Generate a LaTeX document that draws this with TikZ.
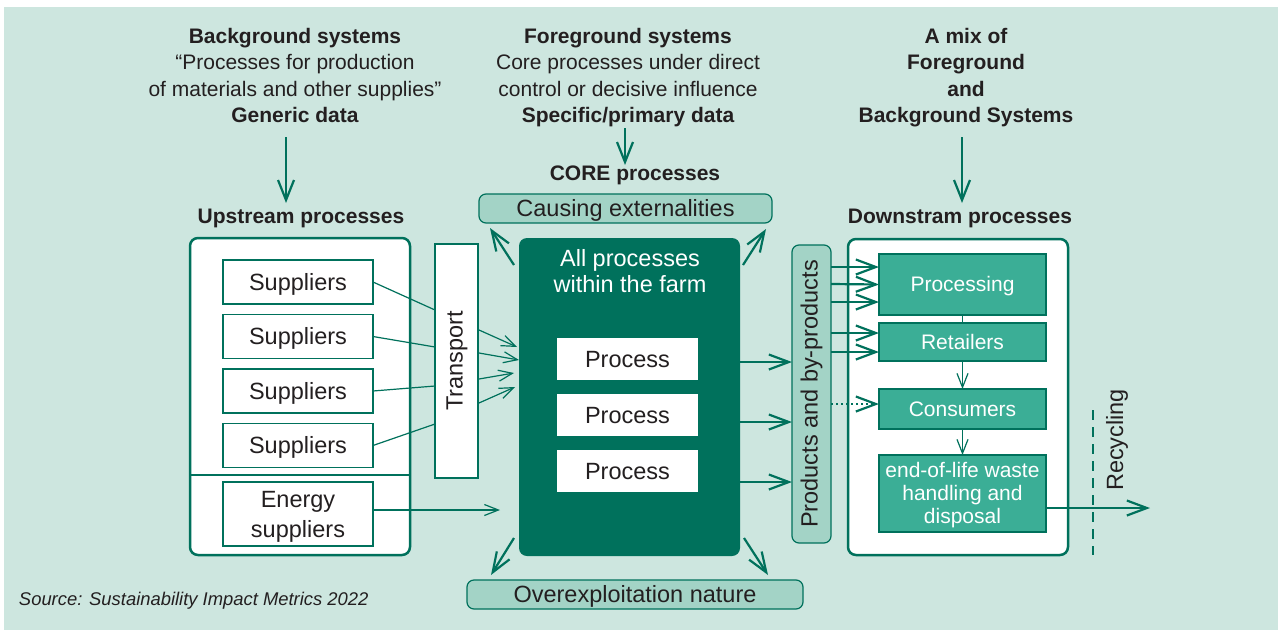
\documentclass[tikz,border=0pt]{standalone}
\usepackage{fontspec}
\setmainfont{Liberation Sans}
\usetikzlibrary{arrows.meta}
\definecolor{bg}{HTML}{CDE6DF}
\definecolor{dg}{HTML}{00715C}
\definecolor{mg}{HTML}{3BAE96}
\definecolor{lg}{HTML}{A3D3C6}
\definecolor{txt}{HTML}{231F20}
\newcommand\fLbl{\fontsize{23.5}{28}\selectfont}
\newcommand\fHd{\fontsize{21}{26.5}\selectfont}
\newcommand\fDs{\fontsize{21}{23.5}\selectfont}
\newcommand\fSrc{\fontsize{18.4}{22}\selectfont}
\begin{document}
\begin{tikzpicture}[x=1pt,y=-1pt,
  every node/.style={text=txt, inner sep=0pt, outer sep=0pt, align=center, font=\fLbl},
  hb/.style={font=\fHd\bfseries, anchor=base},
  hr/.style={font=\fHd, anchor=base},
  tv/.style={text height=16.5pt, text depth=0.5pt},
  tvs/.style={text height=15pt, text depth=1pt},
  obox/.style={draw=dg, line width=2.5pt, fill=white, rounded corners=8pt},
  wbox/.style={draw=dg, line width=1.2pt, fill=white},
  lbox/.style={draw=dg, line width=1.2pt, fill=lg, rounded corners=7pt},
  dbox/.style={draw=dg, line width=1.2pt, fill=mg, text=white, font=\fDs},
  thinln/.style={draw=dg, line width=1.2pt},
  thinarr/.style={draw=dg, line width=1.2pt, -{Straight Barb[length=14pt,width=11pt,line width=1.2pt]}},
  arr/.style={draw=dg, line width=2.2pt, -{Straight Barb[length=20pt,width=15pt,line width=2.2pt]}},
  varr/.style={draw=dg, line width=2.2pt, -{Straight Barb[length=20pt,width=16pt,line width=2.2pt]}},
]
\path[fill=white] (0,0) rectangle (1278,630);
\path[fill=bg] (4,7) rectangle (1278,630);
\useasboundingbox (0,0) rectangle (1278,630);

% headings
\node[hb] (bg1) at (295,43) {Background systems};
\node[hr] (bg2) at (295,69.5) {“Processes for production};
\node[hr] (bg3) at (295,96) {of materials and other supplies”};
\node[hb] (bg4) at (295,122.5) {Generic data};
\node[hb] (fg1) at (628,43) {Foreground systems};
\node[hr] (fg2) at (628,69.5) {Core processes under direct};
\node[hr] (fg3) at (628,96) {control or decisive influence};
\node[hb] (fg4) at (628,122.5) {Specific/primary data};
\node[hb] (mx1) at (966,43) {A mix of};
\node[hb] (mx2) at (966,69.5) {Foreground};
\node[hb] (mx3) at (966,96) {and};
\node[hb] (mx4) at (966,122.5) {Background Systems};
\node[hb] (uph) at (301,223) {Upstream processes};
\node[hb] (coreh) at (635,180) {CORE processes};
\node[hb] (dnh) at (960,223) {Downstram processes};

\coordinate (a1s) at (286,137); \coordinate (a1e) at (286,203);
\coordinate (a2s) at (625,128); \coordinate (a2e) at (625,165);
\coordinate (a3s) at (962,137); \coordinate (a3e) at (962,203);
\draw[varr] (a1s) -- (a1e);
\draw[varr] (a2s) -- (a2e);
\draw[varr] (a3s) -- (a3e);

% upstream
\node[obox, minimum width=220pt, minimum height=317pt] (up) at (300,396.5) {};
\draw[dg, line width=2.5pt] (190,475) -- (410,475);
\node[wbox, tv, minimum width=150pt, minimum height=44pt] (s1) at (298,282) {Suppliers};
\node[wbox, tv, minimum width=150pt, minimum height=44pt] (s2) at (298,336.5) {Suppliers};
\node[wbox, tv, minimum width=150pt, minimum height=44pt] (s3) at (298,391) {Suppliers};
\node[wbox, tv, minimum width=150pt, minimum height=44pt] (s4) at (298,445.5) {Suppliers};
\node[wbox, minimum width=150pt, minimum height=64pt] (en) at (298,514) {};
\node[anchor=base] (en1) at (298,507) {Energy};
\node[anchor=base] (en2) at (298,537) {suppliers};
\node[wbox, minimum width=43pt, minimum height=234pt] (tr) at (456.5,361) {};
\node[rotate=90] (trt) at (457,361) {Transport};

\coordinate (t1) at (435,310); \coordinate (t2) at (435,347);
\coordinate (t3) at (435,386); \coordinate (t4) at (435,424);
\draw[thinln] (s1.east) -- (t1);
\draw[thinln] (s2.east) -- (t2);
\draw[thinln] (s3.east) -- (t3);
\draw[thinln] (s4.east) -- (t4);

% farm
\node[fill=dg, rounded corners=8pt, minimum width=221pt, minimum height=318pt] (farm) at (629.5,397) {};
\node[text=white, anchor=base] (fa1) at (630,266) {All processes};
\node[text=white, anchor=base] (fa2) at (630,292) {within the farm};
\node[fill=white, tv, minimum width=141pt, minimum height=42pt] (p1) at (627.5,359) {Process};
\node[fill=white, tv, minimum width=141pt, minimum height=42pt] (p2) at (627.5,415) {Process};
\node[fill=white, tv, minimum width=141pt, minimum height=42pt] (p3) at (627.5,471) {Process};

\coordinate (u1) at (479,330); \coordinate (v1) at (517,347);
\coordinate (u2) at (479,353); \coordinate (v2) at (519,360);
\coordinate (u3) at (479,379); \coordinate (v3) at (514,373);
\coordinate (u4) at (479,403); \coordinate (v4) at (515,387);
\draw[thinarr] (u1) -- (v1);
\draw[thinarr] (u2) -- (v2);
\draw[thinarr] (u3) -- (v3);
\draw[thinarr] (u4) -- (v4);
\coordinate (ee) at (500,510);
\draw[thinarr] ([yshift=4pt]en.east) -- (ee);

% externalities
\node[lbox, tv, minimum width=293pt, minimum height=29pt] (ce) at (625.5,208.5) {Causing externalities};
\node[lbox, tv, minimum width=336pt, minimum height=29pt] (on) at (635,594.5) {Overexploitation nature};
\coordinate (c1s) at (514,265); \coordinate (c1e) at (490,228);
\coordinate (c2s) at (743,265); \coordinate (c2e) at (766,229);
\coordinate (o1s) at (514,538); \coordinate (o1e) at (491,575);
\coordinate (o2s) at (744,538); \coordinate (o2e) at (768,575);
\draw[arr] (c1s) -- (c1e);
\draw[arr] (c2s) -- (c2e);
\draw[arr] (o1s) -- (o1e);
\draw[arr] (o2s) -- (o2e);

% products
\node[lbox, minimum width=39pt, minimum height=298pt] (pr) at (811.5,394) {};
\node[rotate=90] (prt) at (811.5,394) {Products and by-products};
\draw[arr] ([yshift=35pt]farm.east) -- ([yshift=32pt]pr.west);
\draw[arr] ([yshift=-25pt]farm.east) -- ([yshift=-28pt]pr.west);
\draw[arr] ([yshift=-85pt]farm.east) -- ([yshift=-88pt]pr.west);

% downstream
\node[obox, minimum width=220pt, minimum height=316pt] (dn) at (958,397) {};
\node[dbox, tvs, minimum width=167pt, minimum height=61pt] (proc) at (962.5,284.5) {Processing};
\node[dbox, tvs, minimum width=167pt, minimum height=38pt] (ret) at (962.5,342) {Retailers};
\node[dbox, tvs, minimum width=167pt, minimum height=40pt] (cons) at (962.5,409) {Consumers};
\node[dbox, minimum width=167pt, minimum height=77pt] (eol) at (962.5,493.5) {};
\node[anchor=base, text=white, font=\fDs] (eo1) at (962.5,477) {end-of-life waste};
\node[anchor=base, text=white, font=\fDs] (eo2) at (962.5,500) {handling and};
\node[anchor=base, text=white, font=\fDs] (eo3) at (962.5,523) {disposal};
\draw[thinln] (proc.south) -- (ret.north);
\draw[thinarr] (ret.south) -- (cons.north);
\draw[thinarr] (cons.south) -- (eol.north);

\draw[arr] ([yshift=127pt]pr.east) -- ([yshift=17.5pt]proc.west);
\draw[arr] ([yshift=110pt]pr.east) -- ([yshift=0pt]proc.west);
\draw[arr] ([yshift=92pt]pr.east) -- ([yshift=-17.5pt]proc.west);
\draw[arr] ([yshift=61pt]pr.east) -- ([yshift=9pt]ret.west);
\draw[arr] ([yshift=42pt]pr.east) -- ([yshift=-10pt]ret.west);
\draw[arr, dash pattern=on 2pt off 3pt] ([yshift=-10pt]pr.east) -- ([yshift=5pt]cons.west);

% recycling
\coordinate (rce) at (1150,508);
\draw[arr] ([yshift=-14.5pt]eol.east) -- (rce);
\coordinate (dl1) at (1093,410); \coordinate (dl2) at (1093,555);
\draw[dg, line width=2pt, dash pattern=on 10pt off 7pt] (dl1) -- (dl2);
\node[rotate=90] (rcy) at (1117,440) {Recycling};

% source
\node[anchor=base west, font=\fSrc\itshape] (src) at (19,605) {Source: Sustainability Impact Metrics 2022};
\end{tikzpicture}
\end{document}
